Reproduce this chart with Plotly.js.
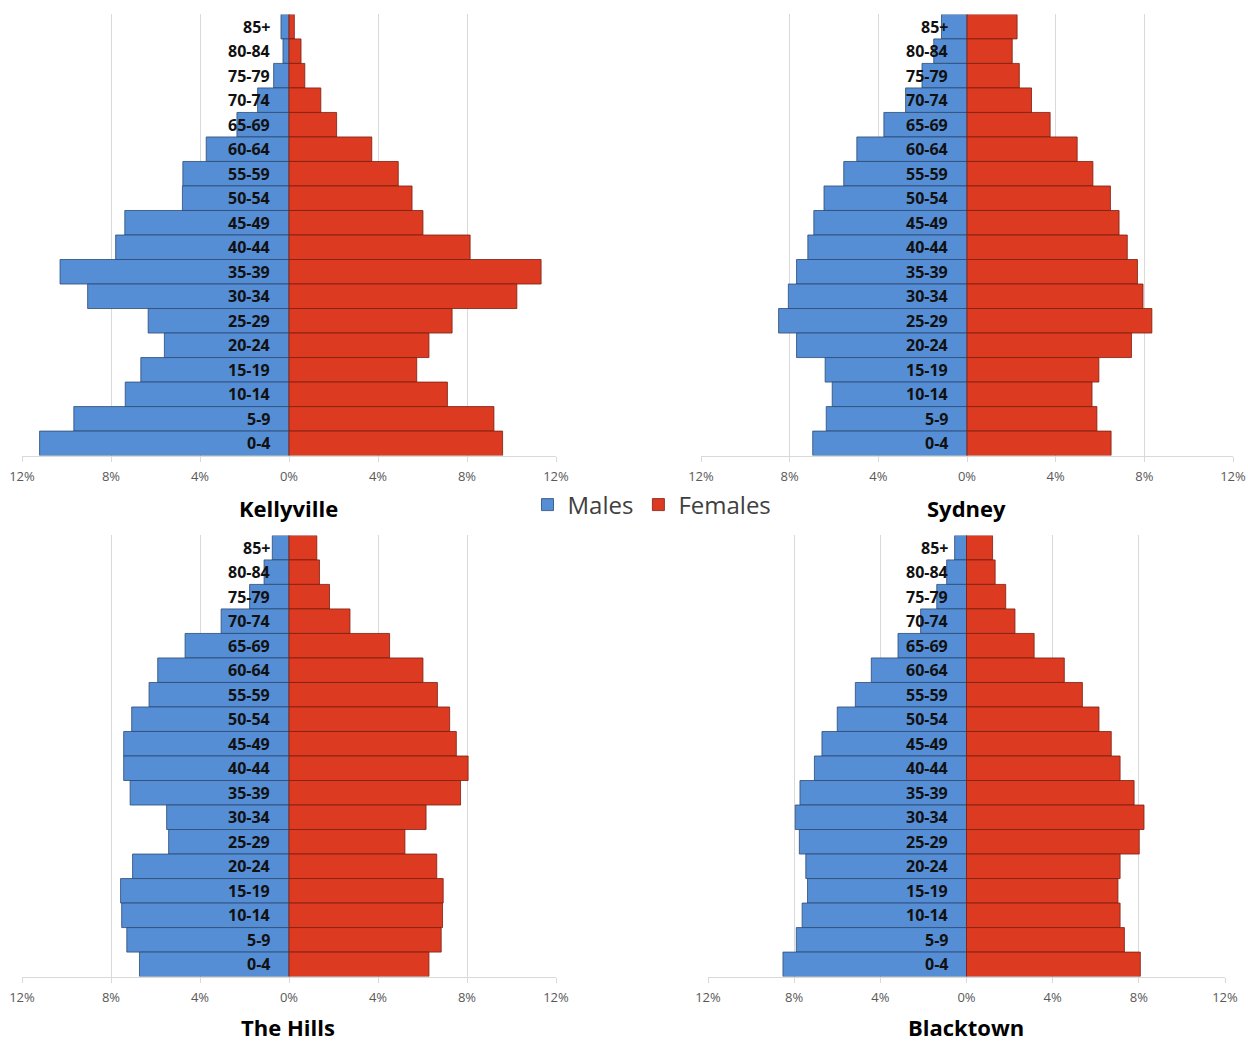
<!DOCTYPE html>
<html>
<head>
<meta charset="utf-8">
<script src="https://cdn.plot.ly/plotly-3.0.1.min.js"></script>
<style>html,body{margin:0;padding:0;background:#fff;}#chart{width:1248px;height:1041px;}</style>
</head>
<body>
<div id="chart"></div>
<script>
// Age groups, top to bottom
const ageGroups = ['85+','80-84','75-79','70-74','65-69','60-64','55-59','50-54','45-49','40-44','35-39','30-34','25-29','20-24','15-19','10-14','5-9','0-4'];

const regionNames = ['Kellyville', 'Sydney', 'The Hills', 'Blacktown'];

// Percent of population, top (85+) to bottom (0-4)
const kellyvilleMales   = [0.36, 0.27, 0.69, 1.41, 2.34, 3.72, 4.77, 4.79, 7.38, 7.79, 10.29, 9.05, 6.33, 5.60, 6.66, 7.36, 9.67, 11.21];
const kellyvilleFemales = [0.24, 0.54, 0.71, 1.43, 2.14, 3.72, 4.91, 5.53, 6.02, 8.14, 11.33, 10.24, 7.33, 6.29, 5.74, 7.12, 9.21, 9.60];

const sydneyMales   = [1.15, 1.50, 2.03, 2.77, 3.75, 4.97, 5.56, 6.45, 6.91, 7.18, 7.69, 8.06, 8.50, 7.69, 6.40, 6.08, 6.35, 6.96];
const sydneyFemales = [2.26, 2.04, 2.36, 2.91, 3.75, 4.97, 5.68, 6.47, 6.86, 7.23, 7.69, 7.94, 8.34, 7.42, 5.95, 5.64, 5.86, 6.50];

const theHillsMales   = [0.75, 1.12, 1.77, 3.05, 4.67, 5.90, 6.29, 7.07, 7.43, 7.43, 7.14, 5.50, 5.41, 7.03, 7.57, 7.52, 7.29, 6.72];
const theHillsFemales = [1.25, 1.37, 1.82, 2.74, 4.52, 6.02, 6.67, 7.22, 7.52, 8.05, 7.71, 6.16, 5.21, 6.64, 6.93, 6.90, 6.84, 6.29];

const blacktownMales   = [0.55, 0.92, 1.38, 2.13, 3.18, 4.42, 5.16, 6.00, 6.71, 7.06, 7.73, 7.95, 7.76, 7.46, 7.38, 7.63, 7.90, 8.52];
const blacktownFemales = [1.21, 1.33, 1.82, 2.25, 3.14, 4.54, 5.38, 6.15, 6.72, 7.13, 7.78, 8.24, 8.02, 7.13, 7.03, 7.13, 7.33, 8.07];

const tickVals = [-12, -8, -4, 0, 4, 8, 12];
const tickLabels = ['12%', '8%', '4%', '0%', '4%', '8%', '12%'];

const maleColor = '#558ed5', maleLine = '#2c4a74';
const femaleColor = '#dd3b21', femaleLine = '#7a1e10';

const W = 1248, H = 1041;
const panels = [
  {males: kellyvilleMales, females: kellyvilleFemales, x0: 22, x1: 556, y0: 14.4, y1: 455.6, titleY: 508},
  {males: sydneyMales,     females: sydneyFemales,     x0: 701, x1: 1233, y0: 14.4, y1: 455.6, titleY: 508},
  {males: theHillsMales,   females: theHillsFemales,   x0: 22, x1: 556, y0: 535.4, y1: 976.6, titleY: 1027},
  {males: blacktownMales,  females: blacktownFemales,  x0: 708, x1: 1225, y0: 535.4, y1: 976.6, titleY: 1027}
];

const data = [];
const layout = {
  width: W, height: H,
  margin: {l: 0, r: 0, t: 0, b: 0},
  paper_bgcolor: '#ffffff', plot_bgcolor: '#ffffff',
  barmode: 'relative', bargap: 0,
  font: {family: 'Open Sans, sans-serif', color: '#000'},
  showlegend: true,
  legend: {
    orientation: 'h', x: 652 / W, xanchor: 'center', y: 1 - 505 / H, yanchor: 'middle',
    font: {size: 24, color: '#404040', family: 'Open Sans, sans-serif'},
    itemwidth: 30, bgcolor: 'rgba(0,0,0,0)'
  },
  annotations: []
};

panels.forEach((p, i) => {
  const sfx = i === 0 ? '' : String(i + 1);
  const xa = 'x' + sfx, ya = 'y' + sfx;
  data.push({
    type: 'bar', orientation: 'h', name: 'Males',
    y: ageGroups, x: p.males.map(v => -v),
    xaxis: xa, yaxis: ya,
    marker: {color: maleColor, line: {color: maleLine, width: 0.8}},
    showlegend: i === 0, legendgroup: 'm', hoverinfo: 'skip'
  });
  data.push({
    type: 'bar', orientation: 'h', name: 'Females',
    y: ageGroups, x: p.females,
    xaxis: xa, yaxis: ya,
    marker: {color: femaleColor, line: {color: femaleLine, width: 0.8}},
    showlegend: i === 0, legendgroup: 'f', hoverinfo: 'skip'
  });
  layout['xaxis' + sfx] = {
    domain: [p.x0 / W, p.x1 / W], anchor: ya,
    range: [-12, 12], tickvals: tickVals, ticktext: tickLabels,
    showgrid: true, gridcolor: '#d9d9d9', gridwidth: 1, zeroline: false,
    showline: true, linecolor: '#d9d9d9', linewidth: 1,
    ticks: 'outside', ticklen: 5, tickcolor: '#d9d9d9',
    ticklabelstandoff: 4,
    tickfont: {size: 13, color: '#595959', family: 'Open Sans, sans-serif'},
    fixedrange: true
  };
  layout['yaxis' + sfx] = {
    domain: [1 - p.y1 / H, 1 - p.y0 / H], anchor: xa,
    type: 'category', categoryorder: 'array', categoryarray: ageGroups,
    range: [ageGroups.length - 0.5, -0.5],
    showticklabels: false, showgrid: false, zeroline: false, showline: false, ticks: '',
    fixedrange: true
  };
  ageGroups.forEach(a => {
    layout.annotations.push({
      xref: xa, yref: ya, x: 0, y: a, xanchor: 'right', yanchor: 'middle',
      xshift: -17, showarrow: false, text: a,
      font: {size: 16, color: '#111', family: 'Open Sans, sans-serif', weight: 'bold'}
    });
  });
  layout.annotations.push({
    xref: 'paper', yref: 'paper', x: ((p.x0 + p.x1) / 2 - 1) / W, y: 1 - p.titleY / H,
    xanchor: 'center', yanchor: 'middle', showarrow: false, text: regionNames[i],
    font: {size: 22, color: '#000', family: 'Open Sans, sans-serif', weight: 'bold'}
  });
});

Plotly.newPlot('chart', data, layout, {displayModeBar: false, staticPlot: true});
</script>
</body>
</html>
